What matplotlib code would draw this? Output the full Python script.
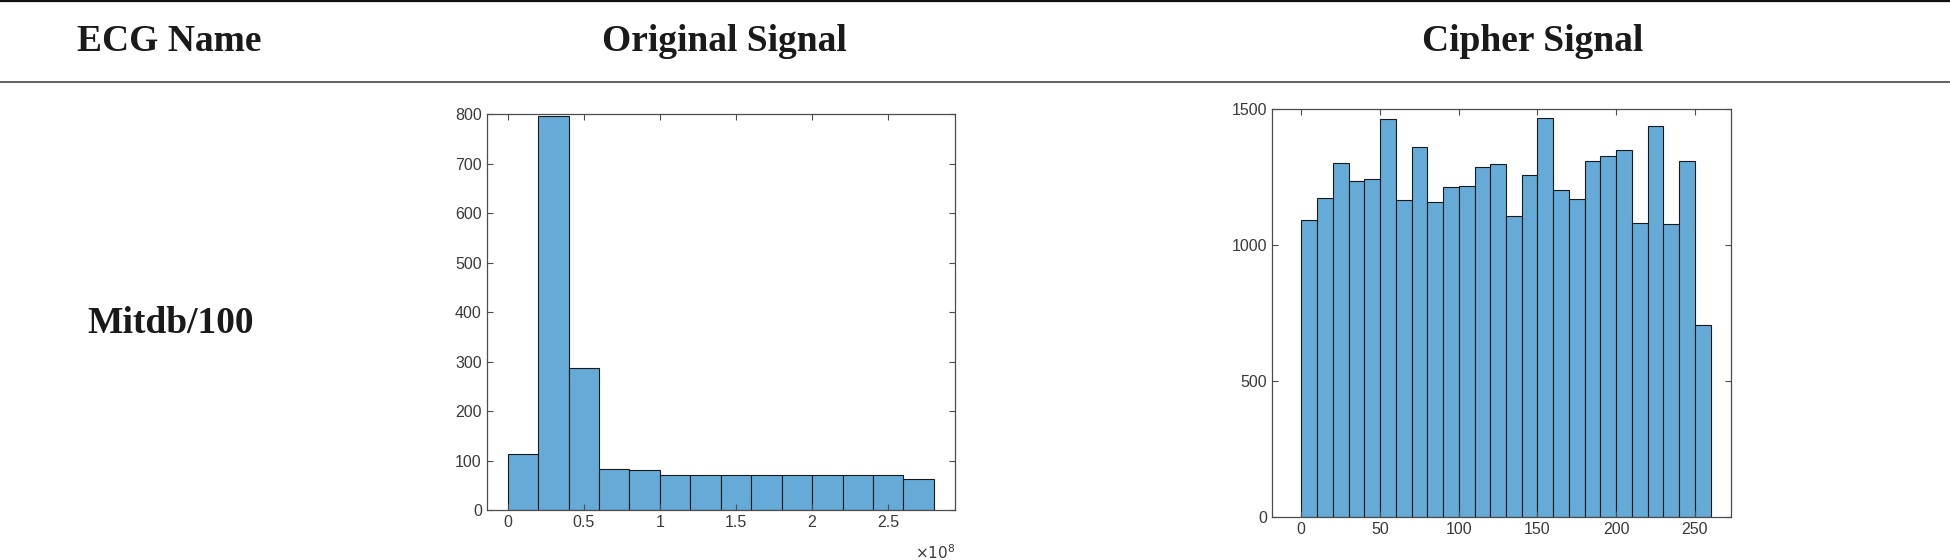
import numpy as np
import matplotlib
matplotlib.use("Agg")
import matplotlib.pyplot as plt
from matplotlib.lines import Line2D

# table text
headers = ["ECG Name", "Original Signal", "Cipher Signal"]
row_name = "Mitdb/100"

# original signal histogram (x in units of 1e8)
orig_edges = [0.0, 0.2, 0.4, 0.6, 0.8, 1.0, 1.2, 1.4, 1.6, 1.8, 2.0, 2.2, 2.4, 2.6, 2.8]
orig_counts = [113, 796, 287, 82, 80, 70, 70, 70, 70, 70, 70, 70, 70, 63]
orig_xticks = [0, 0.5, 1, 1.5, 2, 2.5]
orig_xticklabels = ["0", "0.5", "1", "1.5", "2", "2.5"]
orig_yticks = [0, 100, 200, 300, 400, 500, 600, 700, 800]

# cipher signal histogram
ciph_edges = [0, 10, 20, 30, 40, 50, 60, 70, 80, 90, 100, 110, 120, 130, 140,
              150, 160, 170, 180, 190, 200, 210, 220, 230, 240, 250, 260]
ciph_counts = [1092, 1173, 1303, 1235, 1243, 1464, 1166, 1360, 1159, 1215, 1219,
               1289, 1300, 1106, 1257, 1467, 1202, 1170, 1310, 1327, 1349, 1081,
               1440, 1079, 1310, 706]
ciph_xticks = [0, 50, 100, 150, 200, 250]
ciph_yticks = [0, 500, 1000, 1500]

bar_color = "#66aad7"
axis_color = "#4d4d4d"
text_color = "#3a3a3a"

fig = plt.figure(figsize=(19.5, 5.6), dpi=100)

# table rules and header / row text
fig.add_artist(Line2D([0, 1], [1 - 1.0 / 560, 1 - 1.0 / 560], color="#111111", lw=1.6))
fig.add_artist(Line2D([0, 1], [1 - 81.5 / 560, 1 - 81.5 / 560], color="#555555", lw=1.3))
serif = dict(family="Liberation Serif", weight="bold", fontsize=27, color="#1a1a1a",
             ha="center", va="baseline")
fig.text(169 / 1950, 1 - 51 / 560, headers[0], **serif)
fig.text(724 / 1950, 1 - 51 / 560, headers[1], **serif)
fig.text(1533 / 1950, 1 - 51 / 560, headers[2], **serif)
fig.text(171 / 1950, 1 - 333 / 560, row_name, **serif)


def style_axes(ax):
    for s in ax.spines.values():
        s.set_color(axis_color)
        s.set_linewidth(0.9)
    ax.tick_params(direction="in", top=True, right=True, length=4, width=0.8,
                   color=axis_color, labelcolor=text_color, labelsize=11.5,
                   labelfontfamily="Liberation Sans")


# left: original signal
ax1 = fig.add_axes([486.7 / 1950, 1 - 510 / 560, (955 - 486.7) / 1950, (510 - 114.3) / 560])
w1 = np.diff(orig_edges)
ax1.bar(orig_edges[:-1], orig_counts, width=w1, align="edge", color=bar_color,
        edgecolor="#1a1a1a", linewidth=0.8)
ax1.set_xlim(-0.138, 2.939)
ax1.set_ylim(0, 800)
ax1.set_xticks(orig_xticks)
ax1.set_xticklabels(orig_xticklabels)
ax1.set_yticks(orig_yticks)
style_axes(ax1)
ax1.text(1.0, -0.085, r"$\times10^{8}$", transform=ax1.transAxes, ha="right", va="top",
         fontsize=11, color=text_color)

# right: cipher signal
ax2 = fig.add_axes([1271.7 / 1950, 1 - 516.7 / 560, (1730.7 - 1271.7) / 1950, (516.7 - 109.3) / 560])
w2 = np.diff(ciph_edges)
ax2.bar(ciph_edges[:-1], ciph_counts, width=w2, align="edge", color=bar_color,
        edgecolor="#1a1a1a", linewidth=0.8)
ax2.set_xlim(-18.8, 272.7)
ax2.set_ylim(0, 1500)
ax2.set_xticks(ciph_xticks)
ax2.set_yticks(ciph_yticks)
style_axes(ax2)

fig.savefig("out.png", dpi=100, facecolor="white")
